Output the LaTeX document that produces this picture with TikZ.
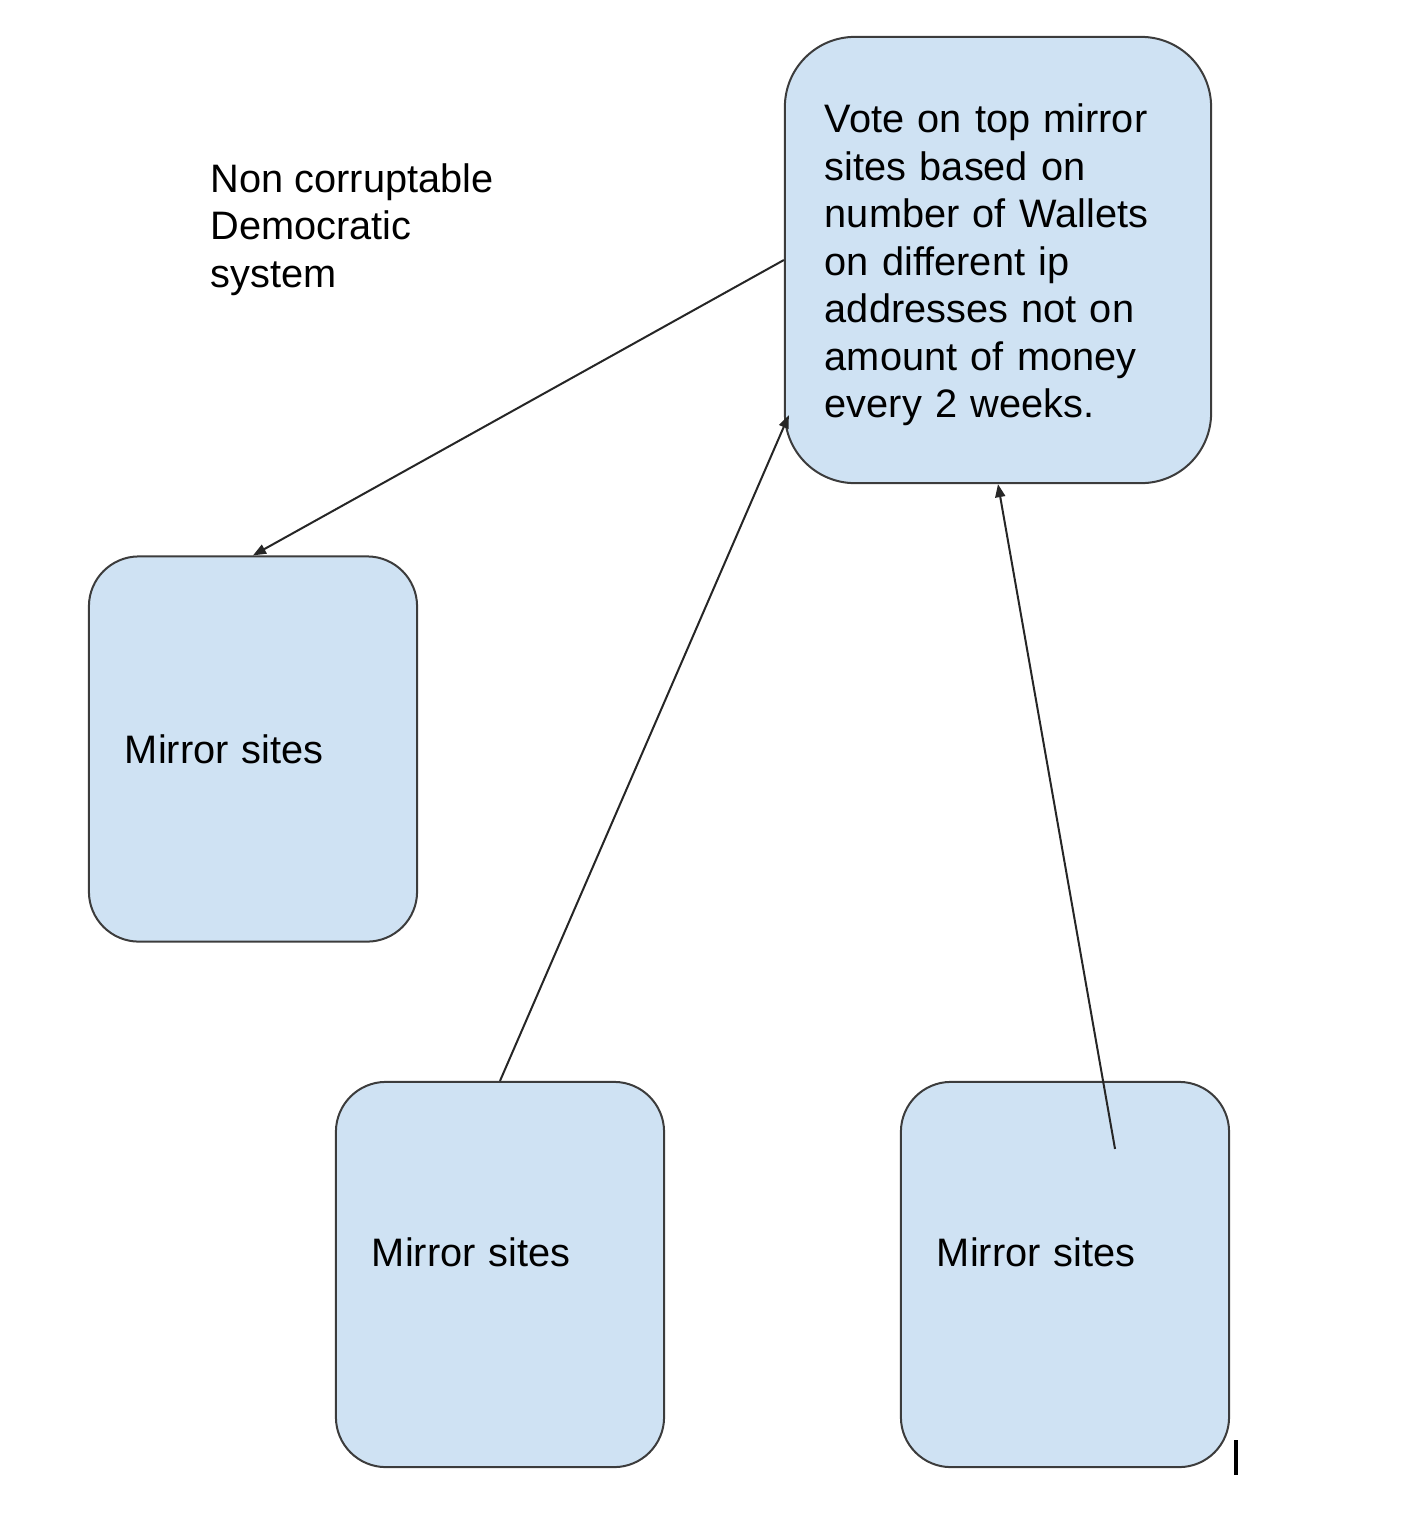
\documentclass[tikz,border=0pt]{standalone}
\usepackage{fontspec}
\setmainfont{Liberation Sans}
\usetikzlibrary{arrows.meta}
\definecolor{boxfill}{HTML}{CFE2F3}
\definecolor{boxline}{HTML}{3C3C3C}
\tikzset{
	site/.style={draw=boxline,fill=boxfill,line width=0.02cm,rounded corners=0.5cm,
		minimum width=3.28cm,minimum height=3.85cm,inner xsep=0.36cm,
		text width=2.56cm,align=left,font=\fontsize{11.3}{13.5}\selectfont},
	vote/.style={draw=boxline,fill=boxfill,line width=0.02cm,rounded corners=0.7cm,
		minimum width=4.26cm,minimum height=4.46cm,inner xsep=0.4cm,
		text width=3.46cm,align=left,font=\fontsize{11.3}{13.5}\selectfont},
	link/.style={draw=black!85,line width=0.02cm,-{Triangle[length=0.13cm,width=0.1cm]}}
}
\begin{document}
\begin{tikzpicture}[x=0.01cm,y=-0.01cm]
	\useasboundingbox (0,0) rectangle (1418,1526);
	\node[anchor=north west,inner sep=0,align=left,font=\fontsize{11.3}{13.5}\selectfont] (title) at (210,163) {Non corruptable\\Democratic\\system};
	\node[vote] (top) at (998,260) {\rule{0pt}{0.39cm}Vote on top mirror\\sites based on\\number of Wallets\\on different ip\\addresses not on\\amount of money\\every 2 weeks.};
	\node[site] (left) at (253,749) {Mirror sites};
	\node[site,text depth=0.44cm] (mid) at (500,1274.5) {Mirror sites};
	\node[site,text depth=0.44cm] (right) at (1065,1274.5) {Mirror sites};
	\coordinate (in) at ([xshift=0.05cm,yshift=-1.55cm]top.west);
	\coordinate (out) at ([xshift=0.5cm,yshift=-0.68cm]right.north);
	\draw[link] (top.west) to (left.north);
	\draw[link] (mid.north) to (in);
	\draw[link] (out) to (top.south);
	\draw[line width=0.04cm] (1236,1440) to (1236,1475);
\end{tikzpicture}
\end{document}
